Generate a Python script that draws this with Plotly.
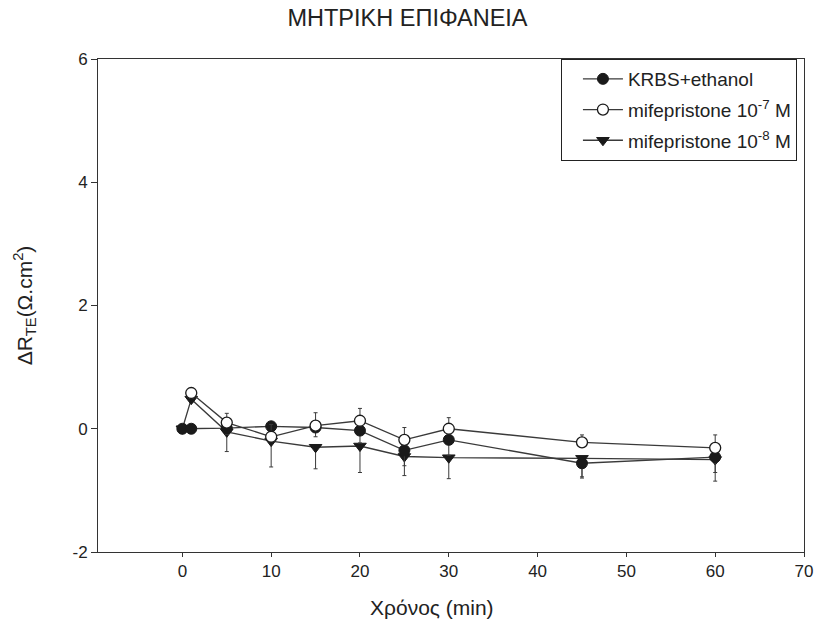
import plotly.graph_objects as go

time = [0, 1, 5, 10, 15, 20, 25, 30, 45, 60]
krbs = [0.0, 0.0, 0.01, 0.04, 0.02, -0.03, -0.35, -0.18, -0.56, -0.46]
krbs_err = [0, 0, 0.1, 0.15, 0.15, 0.2, 0.25, 0.25, 0.24, 0.25]
mife7 = [None, 0.58, 0.10, -0.13, 0.05, 0.13, -0.18, 0.0, -0.22, -0.31]
mife7_err = [0, 0.03, 0.15, 0.2, 0.21, 0.2, 0.2, 0.18, 0.12, 0.21]
mife8 = [0.0, 0.48, -0.05, -0.20, -0.30, -0.28, -0.45, -0.47, -0.48, -0.50]
mife8_err = [0, 0.05, 0.32, 0.42, 0.35, 0.43, 0.31, 0.34, 0.3, 0.35]

names = ["KRBS+ethanol", "mifepristone 10<sup>-7</sup> M", "mifepristone 10<sup>-8</sup> M"]
x_ticks = [0, 10, 20, 30, 40, 50, 60, 70]
y_ticks = [-2, 0, 2, 4, 6]
y_ticktext = ["-2", "0", "2", "4", "6"]

ink = "#1a1a1a"
line_col = "#3a3a3a"

fig = go.Figure()
# drawing order: triangles, filled circles, open circles (legend order kept via legendrank)
fig.add_trace(go.Scatter(
    x=time, y=mife8, name=names[2], mode="lines+markers", legendrank=3, legendgroup="c",
    line=dict(color=line_col, width=1.3),
    marker=dict(symbol="triangle-down", size=11, color=ink, line=dict(color=ink, width=1)),
    error_y=dict(type="data", symmetric=False, array=[0]*len(time), arrayminus=mife8_err,
                 color=line_col, thickness=1, width=2),
))
fig.add_trace(go.Scatter(
    x=time, y=krbs, name=names[0], mode="lines+markers", legendrank=1, legendgroup="a",
    line=dict(color=line_col, width=1.3),
    marker=dict(symbol="circle", size=11, color=ink, line=dict(color=ink, width=1)),
    error_y=dict(type="data", symmetric=False, array=[0]*len(time), arrayminus=krbs_err,
                 color=line_col, thickness=1, width=2),
))
fig.add_trace(go.Scatter(
    x=time, y=mife7, name=names[1], mode="lines+markers", legendrank=2, legendgroup="b",
    line=dict(color=line_col, width=1.3),
    marker=dict(symbol="circle", size=11, color="white", line=dict(color=ink, width=1.3)),
    error_y=dict(type="data", symmetric=False, array=mife7_err, arrayminus=[0]*len(time),
                 color=line_col, thickness=1, width=2),
))

font_family = "Liberation Sans, Arial, sans-serif"
fig.update_layout(
    width=815, height=624, autosize=False,
    margin=dict(l=98, r=11, t=59, b=72, autoexpand=False),
    paper_bgcolor="white", plot_bgcolor="white",
    font=dict(family=font_family, color="#222222", size=17),
    title=dict(text="ΜΗΤΡΙΚΗ ΕΠΙΦΑΝΕΙΑ", x=0.5, xref="container", xanchor="center",
               y=0.971, yref="container", yanchor="middle", pad=dict(t=0, b=0),
               font=dict(size=23.5, color="#222222")),
    showlegend=True,
    legend=dict(x=0.99, xanchor="right", y=1.0, yanchor="top",
                bordercolor="#222222", borderwidth=1, bgcolor="white",
                font=dict(size=19, color="#222222"), itemwidth=40, indentation=16,
                traceorder="grouped", tracegroupgap=3),
    xaxis=dict(range=[-9.5, 70], tickmode="array", tickvals=x_ticks, automargin=False,
               ticks="outside", ticklen=4, tickcolor="#333333", showgrid=False, zeroline=False,
               showline=True, linecolor="#333333", linewidth=1, mirror=True,
               tickfont=dict(size=17)),
    yaxis=dict(range=[-2, 6], tickmode="array", tickvals=y_ticks, ticktext=y_ticktext,
               automargin=False,
               ticks="outside", ticklen=6, tickcolor="#333333", showgrid=False, zeroline=False,
               showline=True, linecolor="#333333", linewidth=1, mirror=True,
               tickfont=dict(size=17),
               title=dict(text="ΔR<sub>TE</sub>(Ω.cm<sup>2</sup>)", font=dict(size=21), standoff=34)),
    annotations=[dict(text="Χρόνος (min)", xref="paper", yref="paper", x=0.473, y=-0.112,
                      xanchor="center", yanchor="middle", showarrow=False,
                      font=dict(size=21, color="#222222"))],
)

post = (
    "document.documentElement.style.margin='0';"
    "document.documentElement.style.overflow='hidden';"
    "document.body.style.margin='0';"
    "document.body.style.overflow='hidden';"
    "var gd=document.getElementById('{plot_id}');"
    "Plotly.relayout(gd,{width:815,height:624});"
)
fig.write_html("out.html", config={"displayModeBar": False, "responsive": False},
               post_script=post)
